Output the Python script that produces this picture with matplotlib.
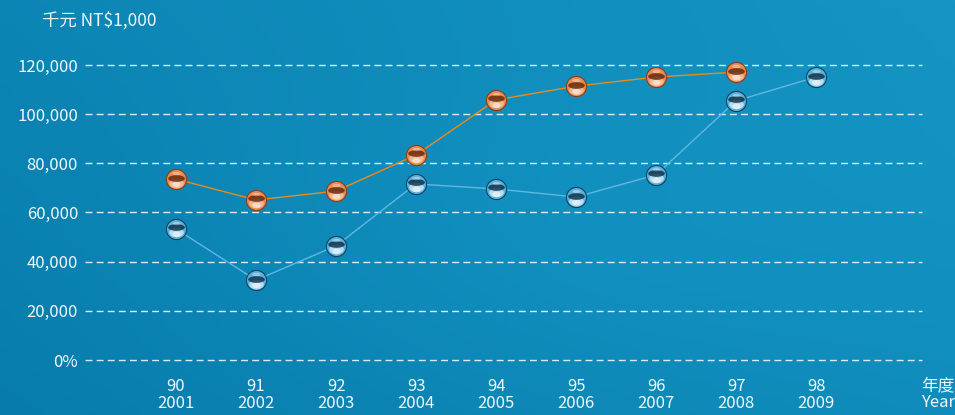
import numpy as np
import matplotlib.pyplot as plt
from matplotlib.path import Path

plt.rcParams['font.family'] = ['Noto Sans CJK TC', 'DejaVu Sans']

# 資料
roc_years = ['90', '91', '92', '93', '94', '95', '96', '97', '98']
ad_years = ['2001', '2002', '2003', '2004', '2005', '2006', '2007', '2008', '2009']
orange_vals = [73600, 65100, 68700, 83400, 105800, 111400, 115100, 117100]
blue_vals = [53300, 32500, 46400, 71600, 69600, 66300, 75300, 105400, 115100]
y_ticks = [0, 20000, 40000, 60000, 80000, 100000, 120000]
y_labels = ['0%', '20,000', '40,000', '60,000', '80,000', '100,000', '120,000']

txt = '#f0f8fc'

fig = plt.figure(figsize=(9.55, 4.15), dpi=100)

# 背景漸層
bg = fig.add_axes([0, 0, 1, 1])
gx, gy = np.meshgrid(np.linspace(0, 1, 200), np.linspace(0, 1, 100))
g = 0.5 * gx + 0.3 * (1 - gy) + 0.2 * np.exp(-((gx - 0.6) ** 2 + (gy - 0.6) ** 2) * 6)
c0 = np.array([0x07, 0x7c, 0xac]) / 255
c1 = np.array([0x14, 0x95, 0xc4]) / 255
img = c0 + (c1 - c0) * g[..., None] / g.max()
bg.imshow(img, aspect='auto', extent=[0, 1, 0, 1], origin='upper')
bg.axis('off')

ax = fig.add_axes([85 / 955, 55 / 415, 837 / 955, 295 / 415])
ax.patch.set_alpha(0)
for s in ax.spines.values():
    s.set_visible(False)

xs = np.arange(len(roc_years))
ax.set_xlim((85 - 176) / 80, (922 - 176) / 80)
ax.set_ylim(0, 120000)

# 虛線格線
for t in y_ticks:
    ax.axhline(t, color='white', lw=1, ls=(0, (5, 3)), alpha=0.85, zorder=1, clip_on=False)

# 橢圓形 marker
th = np.linspace(0, 2 * np.pi, 60)
band = Path(np.column_stack([np.cos(th), 0.4 * np.sin(th)]))
glow = Path(np.column_stack([np.cos(th), 0.65 * np.sin(th)]))
px = 120000 / 295  # 一個像素的資料單位


def balls(x, y, line_c, face, dark, light, edge):
    # 線 + 玻璃球
    y = np.array(y)
    ax.plot(x, y, color=line_c, lw=1, zorder=2)
    kw = dict(ls='none', clip_on=False, mec='none')
    ax.plot(x, y, 'o', ms=14.5, mfc=face, mec=edge, mew=0.8, zorder=3, clip_on=False, ls='none')
    ax.plot(x, y - 3.5 * px, marker=glow, ms=10.5, mfc=light, alpha=0.75, zorder=4, **kw)
    ax.plot(x, y - 5 * px, marker=glow, ms=6, mfc='white', alpha=0.5, zorder=4, **kw)
    ax.plot(x, y + 1.5 * px, marker=band, ms=12, mfc=dark, alpha=0.8, zorder=5, **kw)
    ax.plot(x, y + 6 * px, marker=band, ms=6, mfc='white', alpha=0.35, zorder=6, **kw)


balls(xs[:len(orange_vals)], orange_vals, '#ee8a14', '#e98a52', '#5e260a', '#f9c8a4', '#8a3e16')
balls(xs, blue_vals, '#62b6e2', '#5eaed8', '#0a2e46', '#d6eefa', '#0a4464')

ax.set_yticks(y_ticks)
ax.set_yticklabels(y_labels)
ax.set_xticks(xs)
ax.set_xticklabels([r + '\n' + a for r, a in zip(roc_years, ad_years)], linespacing=1.0)
ax.tick_params(length=0, colors=txt, labelsize=12)
ax.tick_params(axis='y', pad=5)
ax.tick_params(axis='x', pad=13)

fig.text(42 / 955, 1 - 20 / 415, '千元 NT$1,000', color=txt, fontsize=12.5, va='center')
fig.text(938 / 955, 1 - 394 / 415, '年度\nYear', color=txt, fontsize=12, va='center',
         ha='center', linespacing=1.0)

fig.savefig('out.png', dpi=100)
